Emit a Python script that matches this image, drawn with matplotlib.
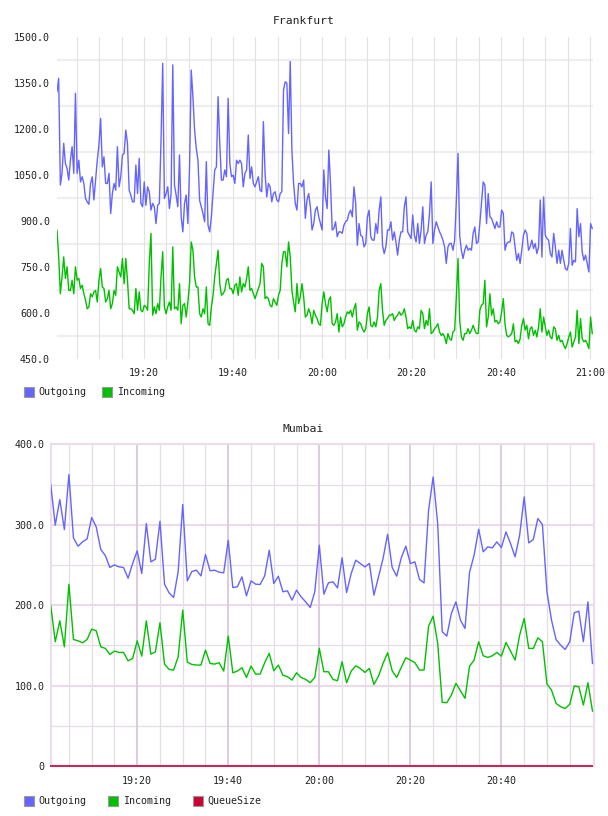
import matplotlib
matplotlib.use("Agg")
import matplotlib.pyplot as plt
import pandas as pd
from matplotlib.patches import Rectangle

# ---------------- Frankfurt data ----------------
fra_start = "2024-01-01 19:00:30"
fra_end = "2024-01-01 21:00:30"
fra_outgoing = [
    1322, 1365, 1017, 1055, 1153, 1087, 1071, 1033, 1098, 1142,
    1055, 1316, 1055, 1098, 1027, 1044, 1022, 973, 962, 954,
    1022, 1044, 968, 1033, 1098, 1147, 1234, 1076, 1109, 1022,
    1022, 1055, 924, 989, 1022, 1000, 1142, 1011, 1044, 1115,
    1120, 1196, 1153, 1000, 984, 962, 962, 1082, 989, 1104,
    957, 946, 1027, 951, 1011, 995, 935, 957, 946, 891,
    951, 957, 1164, 1414, 973, 989, 1011, 940, 989, 1409,
    1017, 984, 946, 1115, 913, 864, 957, 984, 891, 1076,
    1392, 1305, 1196, 1136, 1098, 967, 946, 924, 897, 1093,
    886, 864, 913, 989, 1066, 1076, 1305, 1153, 1033, 1033,
    1066, 1044, 1300, 1087, 1044, 1049, 1022, 1098, 1087, 1098,
    1087, 1011, 1055, 1066, 1180, 1038, 1076, 1022, 1011, 1027,
    1044, 1000, 995, 1224, 1055, 978, 1022, 1011, 962, 989,
    995, 968, 962, 989, 995, 1327, 1354, 1349, 1185, 1420,
    1131, 1022, 957, 935, 1022, 1022, 1011, 1033, 908, 968,
    989, 946, 870, 891, 935, 946, 913, 891, 870, 1066,
    978, 940, 1131, 1022, 870, 875, 897, 848, 864, 864,
    859, 886, 897, 902, 924, 935, 913, 1011, 957, 820,
    891, 853, 848, 815, 826, 913, 935, 848, 837, 837,
    891, 859, 935, 978, 820, 793, 815, 870, 870, 897,
    837, 864, 831, 788, 837, 864, 864, 946, 978, 864,
    853, 842, 919, 853, 831, 891, 826, 870, 946, 826,
    853, 864, 924, 1027, 826, 870, 897, 880, 864, 853,
    837, 815, 761, 815, 826, 826, 804, 837, 968, 1120,
    853, 804, 777, 804, 820, 804, 810, 804, 859, 880,
    826, 831, 891, 957, 1027, 1017, 891, 989, 913, 908,
    891, 875, 897, 880, 880, 935, 924, 804, 826, 831,
    831, 864, 859, 815, 771, 793, 761, 804, 853, 870,
    859, 804, 815, 837, 810, 826, 793, 815, 968, 782,
    978, 853, 842, 837, 793, 782, 859, 815, 761, 804,
    761, 804, 771, 744, 739, 761, 875, 755, 771, 766,
    940, 848, 891, 799, 771, 788, 761, 733, 891, 875,
]
fra_incoming = [
    869, 782, 662, 717, 782, 712, 750, 673, 673, 706,
    662, 750, 706, 712, 679, 690, 662, 641, 613, 619,
    662, 652, 668, 673, 635, 706, 744, 684, 679, 635,
    646, 673, 613, 630, 673, 657, 750, 733, 717, 777,
    695, 777, 706, 613, 613, 608, 597, 679, 608, 668,
    608, 603, 624, 619, 608, 761, 859, 592, 619, 597,
    630, 608, 717, 799, 619, 597, 619, 635, 608, 815,
    613, 619, 608, 695, 564, 624, 630, 586, 635, 695,
    831, 804, 717, 684, 684, 597, 586, 613, 597, 684,
    564, 559, 619, 657, 717, 761, 804, 695, 657, 662,
    673, 706, 712, 679, 679, 662, 690, 695, 657, 717,
    668, 695, 684, 712, 750, 673, 679, 662, 646, 662,
    679, 695, 761, 750, 646, 652, 646, 624, 619, 646,
    635, 624, 657, 673, 761, 799, 799, 750, 831, 782,
    673, 635, 603, 695, 630, 652, 695, 652, 586, 592,
    613, 597, 564, 608, 592, 581, 564, 559, 630, 668,
    630, 603, 641, 652, 564, 559, 570, 597, 537, 586,
    554, 564, 586, 603, 597, 608, 586, 613, 630, 543,
    570, 564, 548, 537, 548, 597, 619, 559, 554, 570,
    554, 586, 673, 695, 608, 559, 575, 581, 592, 592,
    597, 575, 586, 592, 603, 592, 597, 613, 586, 548,
    554, 548, 575, 543, 537, 554, 548, 608, 597, 548,
    575, 559, 613, 532, 537, 548, 554, 564, 537, 526,
    532, 521, 499, 532, 515, 510, 537, 543, 652, 777,
    575, 521, 510, 532, 532, 548, 532, 543, 559, 543,
    532, 532, 608, 624, 630, 706, 554, 586, 662, 592,
    613, 570, 575, 564, 570, 603, 646, 564, 526, 521,
    526, 532, 564, 505, 510, 499, 515, 559, 581, 543,
    559, 515, 548, 554, 526, 543, 521, 554, 613, 537,
    586, 554, 526, 543, 521, 515, 554, 548, 510, 526,
    505, 510, 494, 483, 499, 521, 537, 488, 505, 521,
    608, 499, 581, 515, 505, 510, 499, 483, 586, 532,
]
fra_yticks = [450, 600, 750, 900, 1050, 1200, 1350, 1500]
fra_ygrid = [525, 675, 825, 975, 1125, 1275, 1425]
fra_xticklabels = ["19:20", "19:40", "20:00", "20:20", "20:40", "21:00"]

# ---------------- Mumbai data ----------------
mum_start = "2024-01-01 19:01:00"
mum_outgoing = [
    350.3, 299.4, 331.3, 294.0, 362.3, 283.6, 273.3, 278.7, 282.4, 308.9,
    297.3, 269.2, 261.7, 246.8, 250.1, 247.6, 246.8, 233.5, 251.8, 267.5,
    239.3, 301.4, 253.8, 257.1, 304.3, 226.1, 215.3, 209.5, 241.8, 325.1,
    230.2, 241.8, 243.5, 236.4, 262.9, 242.7, 243.5, 241.0, 240.2, 280.7,
    221.9, 222.8, 235.2, 211.6, 230.2, 226.1, 225.7, 236.4, 268.3, 226.9,
    236.0, 216.6, 217.8, 206.2, 218.6,
    210.4, 204.1, 197.1, 216.6, 274.5, 213.7, 227.7, 229.0, 221.5, 258.8,
    215.7, 239.3, 255.9, 251.8, 247.6, 251.8, 212.4, 235.2, 258.0, 288.2,
    246.8, 236.0, 258.8, 273.3, 251.8, 253.8, 231.9, 227.7, 318.0, 359.4,
    301.4, 166.9, 161.5, 189.6, 204.1, 181.4, 171.0, 241.0, 262.1, 294.4,
    266.3, 272.5, 271.2, 278.7, 271.6, 291.1, 276.6, 260.0, 287.0, 334.6,
    277.4, 281.6, 307.7, 300.2, 216.6, 181.4, 157.3, 150.3, 144.9, 154.5,
    190.5, 192.5, 154.5, 204.1, 127.5,
]
mum_incoming = [
    200.0, 154.5, 180.5, 148.2, 226.0, 157.3, 155.7, 153.2, 157.3, 170.2,
    168.1, 148.2, 146.2, 138.7, 142.9, 141.2, 141.2, 130.8, 133.7, 155.7,
    136.6, 180.5, 139.1, 142.0, 178.1, 126.7, 120.1, 119.3, 135.8, 193.8,
    129.2, 126.3, 125.5, 125.5, 144.1, 127.5, 126.7, 128.4, 118.0, 161.5,
    115.9, 118.0, 122.2, 110.1, 124.2, 114.3, 114.3, 128.4, 140.0, 118.4,
    125.5, 113.0, 111.0, 106.8, 115.9,
    110.1, 107.7, 103.5, 110.1, 146.2, 117.2, 117.2, 107.7, 106.0, 129.6,
    103.5, 118.0, 124.6, 121.3, 116.4, 121.3, 101.4, 111.8, 127.5, 140.8,
    118.4, 110.1, 122.6, 134.6, 131.7, 128.4, 119.3, 119.3, 173.9, 186.3,
    152.4, 79.1, 78.7, 88.2, 102.7, 93.6, 84.1, 124.2, 131.7, 154.5,
    137.1, 135.0, 137.1, 141.2, 136.6, 153.6, 142.9, 131.7, 162.7, 183.4,
    146.2, 146.2, 159.4, 154.5, 101.9, 94.4, 77.8, 73.7, 71.6, 76.6,
    99.4, 98.6, 75.8, 103.5, 68.3,
]
mum_queuesize = [0] * 120
mum_yticks = [0, 100, 200, 300, 400]
mum_yticklabels = ["0", "100.0", "200.0", "300.0", "400.0"]
mum_xticklabels = ["19:20", "19:40", "20:00", "20:20", "20:40"]

C_OUT = "#6464ff"
C_IN = "#00c000"
C_Q = "#cc0033"
FONT = "DejaVu Sans Mono"
TXT = "#222222"

plt.rcParams["font.family"] = [FONT, "DejaVu Sans"]

W, H = 608, 816
fig = plt.figure(figsize=(W / 100, H / 100), dpi=100)
fig.patch.set_facecolor("white")


def fx(px):
    return px / W


def fy(py):
    return 1 - py / H


day = "2024-01-01 "

# ---------------- Frankfurt ----------------
ax1 = fig.add_axes([fx(57), fy(358.7), fx(593) - fx(57), fy(37) - fy(358.7)])
fra_t = pd.date_range(fra_start, fra_end, periods=len(fra_outgoing))
ax1.set_xlim(pd.Timestamp(day + "19:00:30"), pd.Timestamp(day + "21:00:40"))
ax1.set_ylim(450, 1500)
for v in fra_ygrid:
    ax1.axhline(v, color="#eeeeee", lw=1.6, zorder=0)
for t in pd.date_range(day + "19:05", day + "21:00", freq="5min"):
    ax1.axvline(t, color="#e2e2e2", lw=0.8, zorder=0.5)
ax1.plot(fra_t, fra_outgoing, color=C_OUT, lw=1.0, zorder=3)
ax1.plot(fra_t, fra_incoming, color=C_IN, lw=1.0, zorder=3)
ax1.set_yticks(fra_yticks)
ax1.set_yticklabels([f"{v:.1f}" for v in fra_yticks])
ax1.set_xticks([pd.Timestamp(day + s) for s in fra_xticklabels])
ax1.set_xticklabels(fra_xticklabels)
ax1.tick_params(axis="both", length=0, labelsize=7.2, colors=TXT)
ax1.tick_params(axis="y", pad=5)
ax1.tick_params(axis="x", pad=6.5)
for s in ax1.spines.values():
    s.set_visible(False)
fig.text(fx(304), fy(20.5), "Frankfurt", ha="center", va="center",
         fontsize=8.2, color=TXT)

# ---------------- Mumbai ----------------
ax2 = fig.add_axes([fx(50.7), fy(766), fx(594) - fx(50.7), fy(444.3) - fy(766)])
mum_t = pd.date_range(mum_start, periods=len(mum_outgoing), freq="1min")
ax2.set_xlim(pd.Timestamp(day + "19:01:00"), pd.Timestamp(day + "21:00:20"))
ax2.set_ylim(0, 400)
for v in [50, 150, 250, 350]:
    ax2.axhline(v, color="#e6dee6", lw=0.9, zorder=0)
for v in [100, 200, 300]:
    ax2.axhline(v, color="#ecdaec", lw=1.5, zorder=0)
for t in pd.date_range(day + "19:05", day + "20:55", freq="5min"):
    if t.minute % 20 == 0:
        ax2.axvline(t, color="#dcc6dc", lw=1.3, zorder=0.6)
    else:
        ax2.axvline(t, color="#e6dde6", lw=0.9, zorder=0.5)
ax2.plot(mum_t, mum_outgoing, color=C_OUT, lw=1.0, zorder=3)
ax2.plot(mum_t, mum_incoming, color=C_IN, lw=1.0, zorder=3)
ax2.plot(mum_t, mum_queuesize, color="#d81b50", lw=1.4, zorder=4, clip_on=False)
ax2.set_yticks(mum_yticks)
ax2.set_yticklabels(mum_yticklabels)
ax2.set_xticks([pd.Timestamp(day + s) for s in mum_xticklabels])
ax2.set_xticklabels(mum_xticklabels)
ax2.tick_params(axis="both", length=0, labelsize=7.2, colors=TXT)
ax2.tick_params(axis="y", pad=4.6)
ax2.tick_params(axis="x", pad=7.2)
for side in ["top", "left", "right"]:
    ax2.spines[side].set_color("#eedcee")
    ax2.spines[side].set_linewidth(1.5)
ax2.spines["bottom"].set_visible(False)
fig.text(fx(303), fy(429), "Mumbai", ha="center", va="center",
         fontsize=8.2, color=TXT)


# ---------------- Legends ----------------
def legend_item(x_sq, y_center, color, label):
    fig.add_artist(Rectangle((fx(x_sq), fy(y_center + 5)), fx(10), 10 / H,
                             transform=fig.transFigure, facecolor=color,
                             edgecolor="#999999", lw=0.8))
    fig.text(fx(x_sq + 14.5), fy(y_center), label, ha="left", va="center",
             fontsize=7.2, color=TXT)


legend_item(24.3, 392.3, C_OUT, "Outgoing")
legend_item(102.3, 392.3, C_IN, "Incoming")
legend_item(24.3, 800.7, C_OUT, "Outgoing")
legend_item(108.3, 800.7, C_IN, "Incoming")
legend_item(192.5, 800.7, C_Q, "QueueSize")

fig.savefig("out.png", dpi=100, facecolor="white")
